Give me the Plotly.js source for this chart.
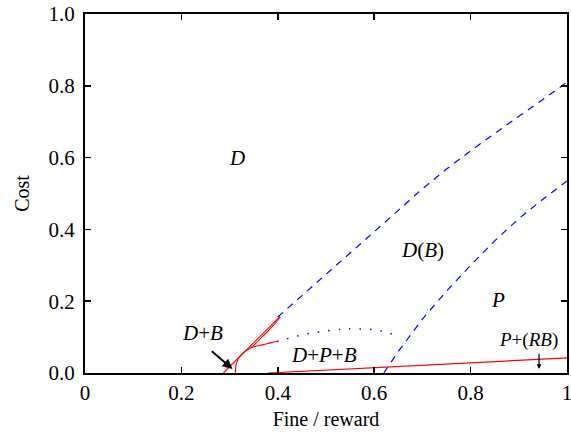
<!DOCTYPE html>
<html>
<head>
<meta charset="utf-8">
<script src="https://cdn.plot.ly/plotly-3.0.1.min.js"></script>
<style>html,body{margin:0;padding:0;background:#fff;}#chart{width:571px;height:435px;}</style>
</head>
<body>
<div id="chart"></div>
<script>
// Boundary D / D(B) (blue dashed)
const upperX = [0.4, 0.45, 0.5, 0.55, 0.6, 0.65, 0.7, 0.75, 0.8, 0.85, 0.9, 0.95, 1.0];
const upperY = [0.156, 0.215, 0.275, 0.335, 0.394, 0.453, 0.513, 0.568, 0.619, 0.668, 0.715, 0.762, 0.81];
// Boundary D(B) / P (blue dashed)
const lowerX = [0.62, 0.65, 0.7, 0.75, 0.8, 0.85, 0.9, 0.95, 1.0];
const lowerY = [0.0, 0.06, 0.15, 0.228, 0.30, 0.368, 0.43, 0.484, 0.535];
// Boundary D+P+B (blue dotted)
const dotX = [0.398, 0.447, 0.489, 0.534, 0.558, 0.605, 0.626, 0.647];
const dotY = [0.087, 0.105, 0.115, 0.122, 0.123, 0.120, 0.113, 0.104];
// Red solid boundaries
const redAX = [0.287, 0.405];
const redAY = [0.0, 0.158];
const redBX = [0.312, 0.313, 0.317, 0.324, 0.334, 0.345, 0.37, 0.39, 0.405];
const redBY = [0.0, 0.02, 0.037, 0.051, 0.062, 0.071, 0.104, 0.131, 0.156];
const redCX = [0.345, 0.353, 0.37, 0.385, 0.402];
const redCY = [0.071, 0.074, 0.079, 0.084, 0.089];
const redDX = [0.38, 1.0];
const redDY = [0.0, 0.042];
// Axis ticks
const xTickVals = [0, 0.2, 0.4, 0.6, 0.8, 1.0];
const xTickText = ["0", "0.2", "0.4", "0.6", "0.8", "1"];
const yTickVals = [0, 0.2, 0.4, 0.6, 0.8, 1.0];
const yTickText = ["0.0", "0.2", "0.4", "0.6", "0.8", "1.0"];

const blue = '#0000ff';
const red = '#ff0000';
const font = "Liberation Serif, Times New Roman, serif";

const traces = [
  {x: upperX, y: upperY, mode: 'lines', line: {color: blue, width: 1.2, dash: '7px,6px'}},
  {x: lowerX, y: lowerY, mode: 'lines', line: {color: blue, width: 1.2, dash: '7px,6px'}},
  {x: dotX, y: dotY, mode: 'lines', line: {color: blue, width: 1.5, dash: '1.5px,9px', shape: 'spline'}},
  {x: redAX, y: redAY, mode: 'lines', line: {color: red, width: 1.1}},
  {x: redBX, y: redBY, mode: 'lines', line: {color: red, width: 1.1, shape: 'spline'}},
  {x: redCX, y: redCY, mode: 'lines', line: {color: red, width: 1.1, shape: 'spline'}},
  {x: redDX, y: redDY, mode: 'lines', line: {color: red, width: 1.2}}
];

const lab = (x, y, t, s) => ({x: x, y: y, xref: 'x', yref: 'y', text: t, showarrow: false,
  font: {family: font, size: s || 21, color: '#000'}});

const layout = {
  width: 571, height: 435,
  margin: {l: 85, r: 4, t: 14, b: 62},
  paper_bgcolor: '#fff', plot_bgcolor: '#fff',
  showlegend: false,
  font: {family: font, size: 21, color: '#000'},
  xaxis: {
    range: [0, 1], tickvals: xTickVals, ticktext: xTickText,
    tickfont: {family: font, size: 21, color: '#000'},
    ticklabeloverflow: 'allow',
    ticks: 'inside', ticklen: 6, tickwidth: 1.5, tickcolor: '#000',
    showline: true, linewidth: 2, linecolor: '#000', mirror: 'ticks',
    showgrid: false, zeroline: false,
    title: {text: 'Fine / reward', font: {family: font, size: 20}, standoff: 8},
    automargin: false
  },
  yaxis: {
    range: [0, 1], tickvals: yTickVals, ticktext: yTickText,
    tickfont: {family: font, size: 21, color: '#000'},
    ticklabeloverflow: 'allow',
    ticklabelstandoff: 4,
    ticks: 'inside', ticklen: 6, tickwidth: 1.5, tickcolor: '#000',
    showline: true, linewidth: 2, linecolor: '#000', mirror: 'ticks',
    showgrid: false, zeroline: false,
    title: {text: 'Cost', font: {family: font, size: 20}, standoff: 14},
    automargin: false
  },
  annotations: [
    lab(0.316, 0.599, '<i>D</i>'),
    lab(0.70, 0.343, '<i>D</i>(<i>B</i>)'),
    lab(0.857, 0.203, '<i>P</i>'),
    lab(0.495, 0.05, '<i>D</i>+<i>P</i>+<i>B</i>'),
    lab(0.243, 0.111, '<i>D</i>+<i>B</i>'),
    lab(0.921, 0.092, '<i>P</i>+(<i>RB</i>)', 19),
    {x: 0.306, y: 0.011, ax: 0.26, ay: 0.064, xref: 'x', yref: 'y', axref: 'x', ayref: 'y',
     text: '', showarrow: true, arrowhead: 2, arrowsize: 1, arrowwidth: 2, arrowcolor: '#000'},
    {x: 0.942, y: 0.011, ax: 0.942, ay: 0.058, xref: 'x', yref: 'y', axref: 'x', ayref: 'y',
     text: '', showarrow: true, arrowhead: 2, arrowsize: 0.8, arrowwidth: 1.2, arrowcolor: '#000'}
  ]
};

Plotly.newPlot('chart', traces, layout, {staticPlot: true, displayModeBar: false});
</script>
</body>
</html>
